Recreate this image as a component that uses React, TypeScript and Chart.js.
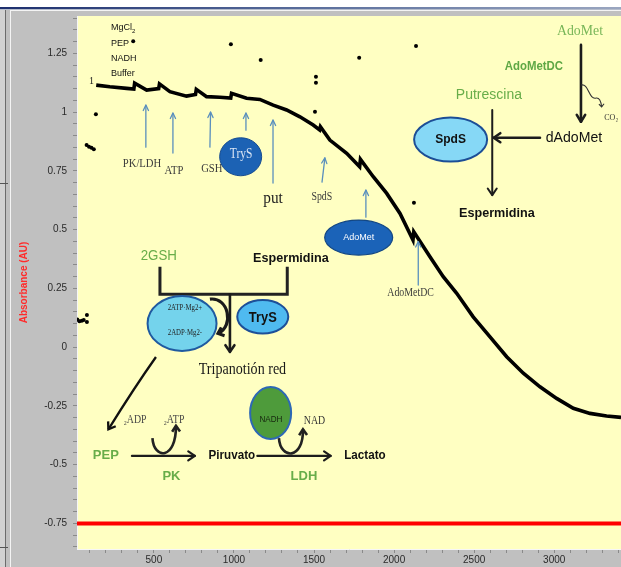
import React, { useEffect, useRef } from 'react';
import { Chart, registerables } from 'chart.js';

Chart.register(...registerables);

// Axis limits (time in s, absorbance in AU)
const timeMin = 20;
const timeMax = 3417;
const absMin = -0.859;
const absMax = 1.409;

// Tick positions and the ones that carry a label
const timeTicks = Array.from({ length: 34 }, (_, i) => 100 * (i + 1));
const timeLabels = [500, 1000, 1500, 2000, 2500, 3000];
const absTicks = Array.from({ length: 46 }, (_, i) => Math.round((-0.85 + 0.05 * i) * 100) / 100);
const absLabels = [-0.75, -0.5, -0.25, 0, 0.25, 0.5, 0.75, 1, 1.25];

// Continuous recording of A340
const traceTime = [140, 225, 330, 375, 380, 455, 530, 535, 600, 704, 760, 765, 829, 912, 980, 985, 1079, 1162, 1245, 1329, 1412, 1495, 1535, 1540, 1599, 1704, 1785, 1790, 1870, 1954, 2037, 2118, 2123, 2224, 2307, 2391, 2494, 2599, 2703, 2807, 2911, 3015, 3119, 3223, 3327, 3417];
const traceAbs = [1.115, 1.108, 1.101, 1.098, 1.123, 1.094, 1.1, 1.12, 1.087, 1.068, 1.075, 1.097, 1.066, 1.063, 1.06, 1.08, 1.059, 1.054, 1.03, 1.009, 0.98, 0.945, 0.924, 0.938, 0.881, 0.825, 0.768, 0.799, 0.725, 0.654, 0.569, 0.456, 0.491, 0.385, 0.3, 0.229, 0.129, 0.044, -0.041, -0.111, -0.169, -0.218, -0.26, -0.282, -0.293, -0.299];

// Readings taken while the cuvette was being filled
const fillTime = [22, 35, 50, 62, 82, 82, 80, 95, 110, 125, 138];
const fillAbs = [0.118, 0.11, 0.112, 0.115, 0.137, 0.107, 0.86, 0.853, 0.848, 0.842, 0.991];

// Isolated spikes during additions
const spikeTime = [371, 981, 1167, 1512, 1512, 1506, 1782, 2137, 2124];
const spikeAbs = [1.302, 1.289, 1.222, 1.151, 1.125, 1.002, 1.231, 1.281, 0.614];

// Reference level
const refLevel = -0.75;

const SANS = '"Liberation Sans", Arial, sans-serif';
const SERIF = '"Liberation Serif", "Times New Roman", serif';
const GREEN = '#68ad49';
const INK = '#1c1c1c';
const STEEL = '#5a8fbd';

type Ctx = CanvasRenderingContext2D;

function label(ctx: Ctx, s: string, x: number, y: number, font: string, color: string, align: CanvasTextAlign = 'center', squeeze = 1) {
  ctx.save();
  ctx.font = font;
  ctx.fillStyle = color;
  ctx.textAlign = align;
  ctx.textBaseline = 'middle';
  ctx.translate(x, y);
  ctx.scale(squeeze, 1);
  ctx.fillText(s, 0, 0);
  ctx.restore();
}

function head(ctx: Ctx, tx: number, ty: number, fx: number, fy: number, size: number, spread: number) {
  const a = Math.atan2(ty - fy, tx - fx);
  ctx.beginPath();
  ctx.moveTo(tx - size * Math.cos(a - spread), ty - size * Math.sin(a - spread));
  ctx.lineTo(tx, ty);
  ctx.lineTo(tx - size * Math.cos(a + spread), ty - size * Math.sin(a + spread));
  ctx.stroke();
}

function arrow(ctx: Ctx, x1: number, y1: number, x2: number, y2: number, color: string, width: number, size: number, spread = 0.55) {
  ctx.save();
  ctx.strokeStyle = color;
  ctx.lineWidth = width;
  ctx.lineCap = 'round';
  ctx.lineJoin = 'round';
  ctx.beginPath();
  ctx.moveTo(x1, y1);
  ctx.lineTo(x2, y2);
  ctx.stroke();
  head(ctx, x2, y2, x1, y1, size, spread);
  ctx.restore();
}

function blob(ctx: Ctx, cx: number, cy: number, rx: number, ry: number, fill: string, stroke: string, lw: number) {
  ctx.save();
  ctx.beginPath();
  ctx.ellipse(cx, cy, rx, ry, 0, 0, Math.PI * 2);
  ctx.fillStyle = fill;
  ctx.fill();
  ctx.lineWidth = lw;
  ctx.strokeStyle = stroke;
  ctx.stroke();
  ctx.restore();
}

// Window frame and plot background
const framePlugin = {
  id: 'frame',
  beforeDraw(chart: any) {
    const { ctx, width, height, chartArea: a } = chart;
    ctx.save();
    ctx.fillStyle = '#c0c0c0';
    ctx.fillRect(0, 0, width, height);
    ctx.fillStyle = '#ffffff';
    ctx.fillRect(0, 0, width, 7);
    const g = ctx.createLinearGradient(0, 0, width, 0);
    g.addColorStop(0, '#1d2f6e');
    g.addColorStop(0.5, '#5a6e9c');
    g.addColorStop(1, '#9aa6c0');
    ctx.fillStyle = g;
    ctx.fillRect(0, 7, width, 2);
    ctx.fillStyle = '#b4bccb';
    ctx.fillRect(0, 9, width, 1);
    ctx.fillStyle = '#f4f4f4';
    ctx.fillRect(10, 10, width - 10, 1);
    ctx.fillStyle = '#d2d2d2';
    ctx.fillRect(0, 10, 5, height - 10);
    ctx.fillStyle = '#6c6c6c';
    ctx.fillRect(5, 10, 1, height - 10);
    ctx.fillStyle = '#f4f4f4';
    ctx.fillRect(10, 10, 1, height - 10);
    ctx.fillStyle = '#555555';
    ctx.fillRect(0, 183, 8, 1);
    ctx.fillRect(0, 547, 8, 1);
    ctx.fillStyle = '#ffffc2';
    ctx.fillRect(a.left, a.top, a.right - a.left, a.bottom - a.top);
    ctx.restore();
  },
};

// Reaction schemes drawn over the recording
const diagramPlugin = {
  id: 'diagram',
  afterDatasetsDraw(chart: any) {
    const ctx: Ctx = chart.ctx;
    const xs = chart.scales.x;
    const ys = chart.scales.y;
    const X = (v: number) => xs.getPixelForValue(v);
    const Y = (v: number) => ys.getPixelForValue(v);

    // reagent list
    const reagents = ['PEP', 'NADH', 'Buffer'];
    const stackY = [1.294, 1.23, 1.166];
    ctx.save();
    ctx.font = `9px ${SANS}`;
    ctx.fillStyle = '#111';
    ctx.textBaseline = 'middle';
    ctx.fillText('MgCl', X(232), Y(1.358));
    const w = ctx.measureText('MgCl').width;
    ctx.font = `6px ${SANS}`;
    ctx.fillText('2', X(232) + w, Y(1.358) + 3);
    ctx.restore();
    reagents.forEach((r, i) => label(ctx, r, X(232), Y(stackY[i]), `9px ${SANS}`, '#111', 'left'));
    label(ctx, '1', X(111), Y(1.129), `10px ${SERIF}`, '#222');

    // addition markers
    const marks = [
      [450, 0.851, 450, 1.03],
      [619, 0.826, 619, 0.996],
      [850, 0.851, 854, 1.0],
      [1075, 0.923, 1075, 0.996],
      [1244, 0.698, 1244, 0.966],
      [1550, 0.702, 1568, 0.805],
      [1824, 0.553, 1824, 0.668],
      [2151, 0.264, 2151, 0.449],
    ];
    marks.forEach(([a, b, c, d]) => arrow(ctx, X(a), Y(b), X(c), Y(d), STEEL, 1.3, 6, 0.45));

    const serifGrey = '#3b3b3b';
    label(ctx, 'PK/LDH', X(426), Y(0.783), `13px ${SERIF}`, serifGrey, 'center', 0.82);
    label(ctx, 'ATP', X(625), Y(0.75), `13px ${SERIF}`, serifGrey, 'center', 0.82);
    label(ctx, 'GSH', X(862), Y(0.76), `13px ${SERIF}`, serifGrey, 'center', 0.82);
    label(ctx, 'put', X(1244), Y(0.634), `17px ${SERIF}`, '#222', 'center', 0.9);
    label(ctx, 'SpdS', X(1549), Y(0.639), `12px ${SERIF}`, serifGrey, 'center', 0.82);
    label(ctx, 'AdoMetDC', X(2103), Y(0.23), `12px ${SERIF}`, serifGrey, 'center', 0.82);

    blob(ctx, X(1042), Y(0.81), 21, 19, '#1c62b4', '#174c90', 1);
    label(ctx, 'TryS', X(1045), Y(0.822), `14px ${SERIF}`, '#dbe6f5', 'center', 0.82);
    blob(ctx, X(1779), Y(0.466), 34, 17.5, '#1b63b8', '#134784', 1.2);
    label(ctx, 'AdoMet', X(1779), Y(0.466), `9px ${SANS}`, '#ffffff');

    // spermidine synthesis scheme
    label(ctx, 'AdoMet', X(3161), Y(1.346), `15px ${SERIF}`, '#78b658', 'center', 0.92);
    label(ctx, 'AdoMetDC', X(2873), Y(1.193), `bold 12px ${SANS}`, '#5fa845', 'center', 0.95);
    arrow(ctx, X(3167), Y(1.286), X(3167), Y(0.959), INK, 2.6, 8, 0.55);
    ctx.save();
    ctx.strokeStyle = '#333';
    ctx.lineWidth = 1.1;
    ctx.beginPath();
    ctx.moveTo(X(3167), Y(1.115));
    ctx.bezierCurveTo(X(3215), Y(1.125), X(3215), Y(1.05), X(3262), Y(1.06));
    ctx.quadraticCurveTo(X(3290), Y(1.062), X(3296), Y(1.022));
    ctx.stroke();
    head(ctx, X(3296), Y(1.022), X(3294), Y(1.05), 4, 0.7);
    ctx.restore();
    label(ctx, 'CO₂', X(3356), Y(0.976), `8px ${SERIF}`, '#333', 'center');
    label(ctx, 'dAdoMet', X(3123), Y(0.891), `15px ${SANS}`, '#111', 'center', 0.94);
    arrow(ctx, X(2911), Y(0.891), X(2622), Y(0.891), INK, 2.6, 8, 0.6);
    label(ctx, 'Putrescina', X(2592), Y(1.073), `14px ${SANS}`, GREEN);
    arrow(ctx, X(2613), Y(1.009), X(2613), Y(0.647), INK, 2, 8, 0.6);
    blob(ctx, X(2353), Y(0.883), 36.5, 22, '#86d8f6', '#1c4e96', 2);
    label(ctx, 'SpdS', X(2353), Y(0.883), `bold 12px ${SANS}`, '#111');
    label(ctx, 'Espermidina', X(2642), Y(0.569), `bold 13px ${SANS}`, '#111', 'center', 0.97);

    // trypanothione synthesis scheme
    label(ctx, '2GSH', X(531), Y(0.388), `14px ${SANS}`, GREEN, 'center', 0.95);
    label(ctx, 'Espermidina', X(1356), Y(0.379), `bold 13px ${SANS}`, '#111', 'center', 0.97);
    ctx.save();
    ctx.strokeStyle = '#222';
    ctx.lineWidth = 3;
    ctx.lineJoin = 'miter';
    ctx.beginPath();
    ctx.moveTo(X(538), Y(0.342));
    ctx.lineTo(X(538), Y(0.225));
    ctx.lineTo(X(1333), Y(0.225));
    ctx.lineTo(X(1333), Y(0.342));
    ctx.stroke();
    ctx.restore();
    blob(ctx, X(676), Y(0.101), 34.5, 27.5, '#74d3ec', '#1f5aa0', 2);
    label(ctx, '2ATP·Mg2+', X(694), Y(0.165), `8px ${SERIF}`, '#222', 'center', 0.85);
    label(ctx, '2ADP·Mg2-', X(694), Y(0.061), `8px ${SERIF}`, '#222', 'center', 0.85);
    arrow(ctx, X(975), Y(0.225), X(975), Y(-0.02), INK, 2.6, 8, 0.6);
    ctx.save();
    ctx.strokeStyle = INK;
    ctx.lineWidth = 3.2;
    ctx.beginPath();
    ctx.moveTo(X(850), Y(0.204));
    ctx.bezierCurveTo(X(965), Y(0.215), X(1005), Y(0.09), X(900), Y(0.058));
    ctx.stroke();
    ctx.lineWidth = 3;
    head(ctx, X(900), Y(0.058), X(945), Y(0.07), 7, 0.7);
    ctx.restore();
    blob(ctx, X(1180), Y(0.129), 25.5, 16.7, '#4fbaf0', '#1d4f98', 2);
    label(ctx, 'TryS', X(1180), Y(0.125), `bold 14px ${SANS}`, '#111', 'center', 0.92);
    label(ctx, 'Tripanotión red', X(1053), Y(-0.097), `16px ${SERIF}`, '#1a1a1a', 'center', 0.88);
    ctx.save();
    ctx.strokeStyle = '#111';
    ctx.lineWidth = 2.3;
    ctx.beginPath();
    ctx.moveTo(X(513), Y(-0.042));
    ctx.quadraticCurveTo(X(380), Y(-0.17), X(216), Y(-0.35));
    ctx.stroke();
    head(ctx, X(216), Y(-0.35), X(300), Y(-0.26), 8, 0.6);
    ctx.restore();

    // coupled PK / LDH assay
    label(ctx, '₂ADP', X(382), Y(-0.31), `12px ${SERIF}`, '#444', 'center', 0.82);
    label(ctx, '₂ATP', X(625), Y(-0.31), `12px ${SERIF}`, '#444', 'center', 0.82);
    ctx.save();
    ctx.strokeStyle = '#222';
    ctx.lineWidth = 2.6;
    ctx.beginPath();
    ctx.moveTo(X(491), Y(-0.387));
    ctx.bezierCurveTo(X(500), Y(-0.48), X(640), Y(-0.48), X(638), Y(-0.335));
    ctx.stroke();
    head(ctx, X(638), Y(-0.335), X(640), Y(-0.4), 7, 0.6);
    ctx.restore();
    label(ctx, 'PEP', X(200), Y(-0.46), `bold 13px ${SANS}`, GREEN);
    arrow(ctx, X(363), Y(-0.463), X(756), Y(-0.463), INK, 2.2, 8, 0.6);
    label(ctx, 'PK', X(610), Y(-0.552), `bold 13px ${SANS}`, GREEN);
    label(ctx, 'Piruvato', X(987), Y(-0.46), `bold 12px ${SANS}`, '#111', 'center', 0.97);
    arrow(ctx, X(1146), Y(-0.463), X(1604), Y(-0.463), INK, 2.2, 8, 0.6);
    blob(ctx, X(1229), Y(-0.28), 20.5, 26, '#4e9b3b', '#2d68b5', 2);
    label(ctx, 'NADH', X(1231), Y(-0.31), `9px ${SANS}`, '#16260e', 'center', 0.9);
    ctx.save();
    ctx.strokeStyle = '#222';
    ctx.lineWidth = 2.6;
    ctx.beginPath();
    ctx.moveTo(X(1281), Y(-0.387));
    ctx.bezierCurveTo(X(1290), Y(-0.48), X(1435), Y(-0.48), X(1431), Y(-0.35));
    ctx.stroke();
    head(ctx, X(1431), Y(-0.35), X(1433), Y(-0.41), 7, 0.6);
    ctx.restore();
    label(ctx, 'NAD', X(1503), Y(-0.314), `12px ${SERIF}`, '#333', 'center', 0.82);
    label(ctx, 'LDH', X(1437), Y(-0.552), `bold 13px ${SANS}`, GREEN);
    label(ctx, 'Lactato', X(1818), Y(-0.46), `bold 12px ${SANS}`, '#111', 'center', 0.97);
  },
};

function labelIf(list: number[]) {
  return (v: number | string) => {
    const n = Number(v);
    return list.some((t) => Math.abs(t - n) < 1e-6) ? String(Math.round(n * 100) / 100) : '';
  };
}

export default function App() {
  const ref = useRef<HTMLCanvasElement>(null);

  useEffect(() => {
    document.body.style.margin = '0';
    const axisGrid = { drawOnChartArea: false, drawTicks: true, tickLength: 4, color: '#8a8a8a' };
    const axisBorder = { display: true, color: '#f6f6f6', width: 1 };
    const tickFont = { family: 'Liberation Sans', size: 10 };
    const chart = new Chart(ref.current!, {
      type: 'scatter',
      data: {
        datasets: [
          {
            data: traceTime.map((t, i) => ({ x: t, y: traceAbs[i] })),
            showLine: true,
            borderColor: '#000',
            borderWidth: 3.6,
            pointRadius: 0,
            tension: 0,
          },
          {
            data: [
              ...fillTime.map((t, i) => ({ x: t, y: fillAbs[i] })),
              ...spikeTime.map((t, i) => ({ x: t, y: spikeAbs[i] })),
            ],
            showLine: false,
            pointRadius: 2,
            pointBorderWidth: 0,
            backgroundColor: '#000',
          },
          {
            data: [{ x: timeMin, y: refLevel }, { x: timeMax, y: refLevel }],
            showLine: true,
            borderColor: '#ff0000',
            borderWidth: 4,
            pointRadius: 0,
          },
        ],
      },
      options: {
        animation: false,
        responsive: false,
        layout: { autoPadding: false, padding: { top: 16, left: 0, right: 0, bottom: 0 } },
        plugins: { legend: { display: false }, tooltip: { enabled: false } },
        scales: {
          x: {
            type: 'linear',
            min: timeMin,
            max: timeMax,
            afterBuildTicks: (s: any) => { s.ticks = timeTicks.map((v) => ({ value: v })); },
            afterFit: (s: any) => { s.height = 18; },
            border: axisBorder,
            grid: axisGrid,
            ticks: {
              autoSkip: false,
              maxRotation: 0,
              padding: 1,
              color: '#2a2a2a',
              font: tickFont,
              callback: labelIf(timeLabels),
            },
          },
          y: {
            type: 'linear',
            min: absMin,
            max: absMax,
            afterBuildTicks: (s: any) => { s.ticks = absTicks.map((v) => ({ value: v })); },
            afterFit: (s: any) => { s.width = 77; },
            border: axisBorder,
            grid: axisGrid,
            title: {
              display: true,
              text: 'Absorbance (AU)',
              color: '#ff2a2a',
              font: { family: 'Liberation Sans', size: 10, weight: 'bold' },
              padding: { top: 18, bottom: 0 },
            },
            ticks: {
              autoSkip: false,
              padding: 6,
              color: '#2a2a2a',
              font: tickFont,
              callback: labelIf(absLabels),
            },
          },
        },
      } as any,
      plugins: [framePlugin, diagramPlugin],
    });
    return () => chart.destroy();
  }, []);

  return (
    <div style={{ position: 'fixed', left: 0, top: 0, width: 621, height: 567, overflow: 'hidden' }}>
      <canvas ref={ref} width={621} height={567} style={{ display: 'block', width: 621, height: 567 }} />
    </div>
  );
}
